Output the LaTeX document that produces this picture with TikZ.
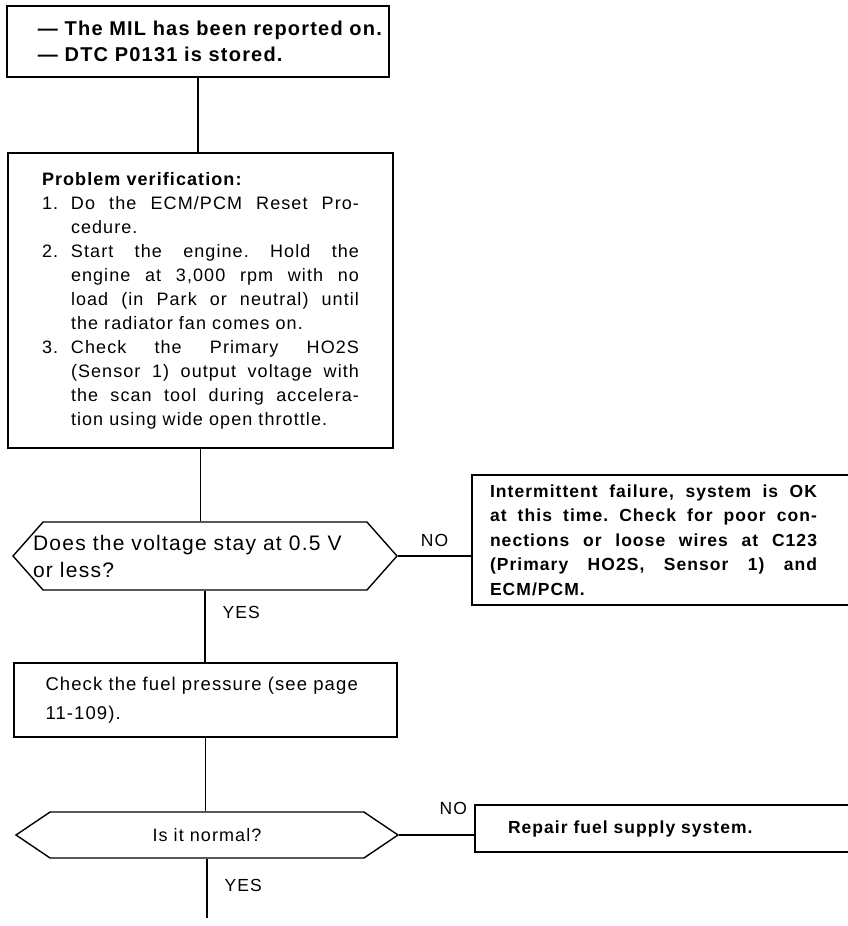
\documentclass[tikz,border=0pt]{standalone}
\usepackage{fontspec}
\setmainfont{Liberation Sans}[LetterSpace=6]
\usepackage{tikz}
\usetikzlibrary{shapes.symbols}

\newcommand{\chkitem}[2]{\par\hangindent=29pt\hangafter=1\noindent\makebox[29pt][l]{#1}#2}

\begin{document}
\frenchspacing
\begin{tikzpicture}[
    x=1pt, y=-1pt,
    box/.style={draw, rectangle, line width=1.4pt, inner sep=0pt, font=\fontsize{18}{24}\selectfont},
    boldbox/.style={box, font=\fontsize{17.5}{24.5}\selectfont\bfseries},
    query/.style={draw, signal, signal to=east and west, line width=1.4pt, inner sep=0pt},
    qtext/.style={font=\fontsize{18}{27}\selectfont, align=left, inner sep=0pt},
    link/.style={line width=1.2pt},
    answer/.style={font=\fontsize{17.5}{22}\selectfont, inner sep=2pt}
]
    \useasboundingbox (0,0) rectangle (848,926);
    \clip (0,0) rectangle (848,926);

    \node[box, minimum width=382pt, minimum height=71pt, text width=376pt, align=left, font=\fontsize{20}{26}\selectfont\bfseries] (start) at (198,41.5) {\leftskip=28pt — The MIL has been reported on.\\— DTC P0131 is stored.\par};
    \node[box, minimum width=385pt, minimum height=295pt, text width=317pt, align=justify] (verify) at (200.5,300.5) {{\bfseries Problem verification:}
        \chkitem{1.}{Do the ECM/PCM Reset Pro-\linebreak cedure.}
        \chkitem{2.}{Start the engine. Hold the\linebreak engine at 3,000 rpm with no\linebreak load (in Park or neutral) until\linebreak the radiator fan comes on.}
        \chkitem{3.}{Check the Primary HO2S\linebreak (Sensor 1) output voltage with\linebreak the scan tool during accelera-\linebreak tion using wide open throttle.}\par};
    \node[query, minimum width=384pt, minimum height=68pt, signal pointer angle=97, label={[qtext, text width=344pt, font=\fontsize{21}{27}\selectfont]center:Does the voltage stay at 0.5 V\\or less?}] (dec1) at (205,556) {};
    \node[boldbox, minimum width=400pt, minimum height=130pt, text width=364pt, align=justify] (fail1) at (672,540) {\rightskip=37pt Intermittent failure, system is OK\linebreak at this time. Check for poor con-\linebreak nections or loose wires at C123\linebreak (Primary HO2S, Sensor 1) and\linebreak ECM/PCM.\par};
    \node[box, minimum width=383pt, minimum height=74pt, text width=320pt, align=left, font=\fontsize{18.5}{29}\selectfont] (fuel) at (205.5,700) {Check the fuel pressure (see page\\11-109).};
    \node[query, minimum width=382pt, minimum height=46pt, signal pointer angle=68, label={[qtext]center:Is it normal?}] (dec2) at (207,835) {};
    \node[boldbox, minimum width=400pt, minimum height=47pt, text width=334pt, align=left] (repair) at (675,828.5) {Repair fuel supply system.};
    \coordinate (stop) at (207,918);

    \draw[link] (start.south) -- (start.south |- verify.north);
    \draw[link] (verify.south) -- (verify.south |- dec1.north);
    \draw[link] (dec1.east) -- node[answer, above=7pt] {NO} (dec1.east -| fail1.west);
    \draw[link] (dec1.south) -- node[answer, right=15pt, pos=0.3] {YES} (dec1.south |- fuel.north);
    \draw[link] (fuel.south) -- (fuel.south |- dec2.north);
    \draw[link] (dec2.east) -- node[answer, above=18pt, pos=0.72] {NO} (dec2.east -| repair.west);
    \draw[link] (dec2.south) -- node[answer, right=15pt, pos=0.45] {YES} (stop);
\end{tikzpicture}
\end{document}
